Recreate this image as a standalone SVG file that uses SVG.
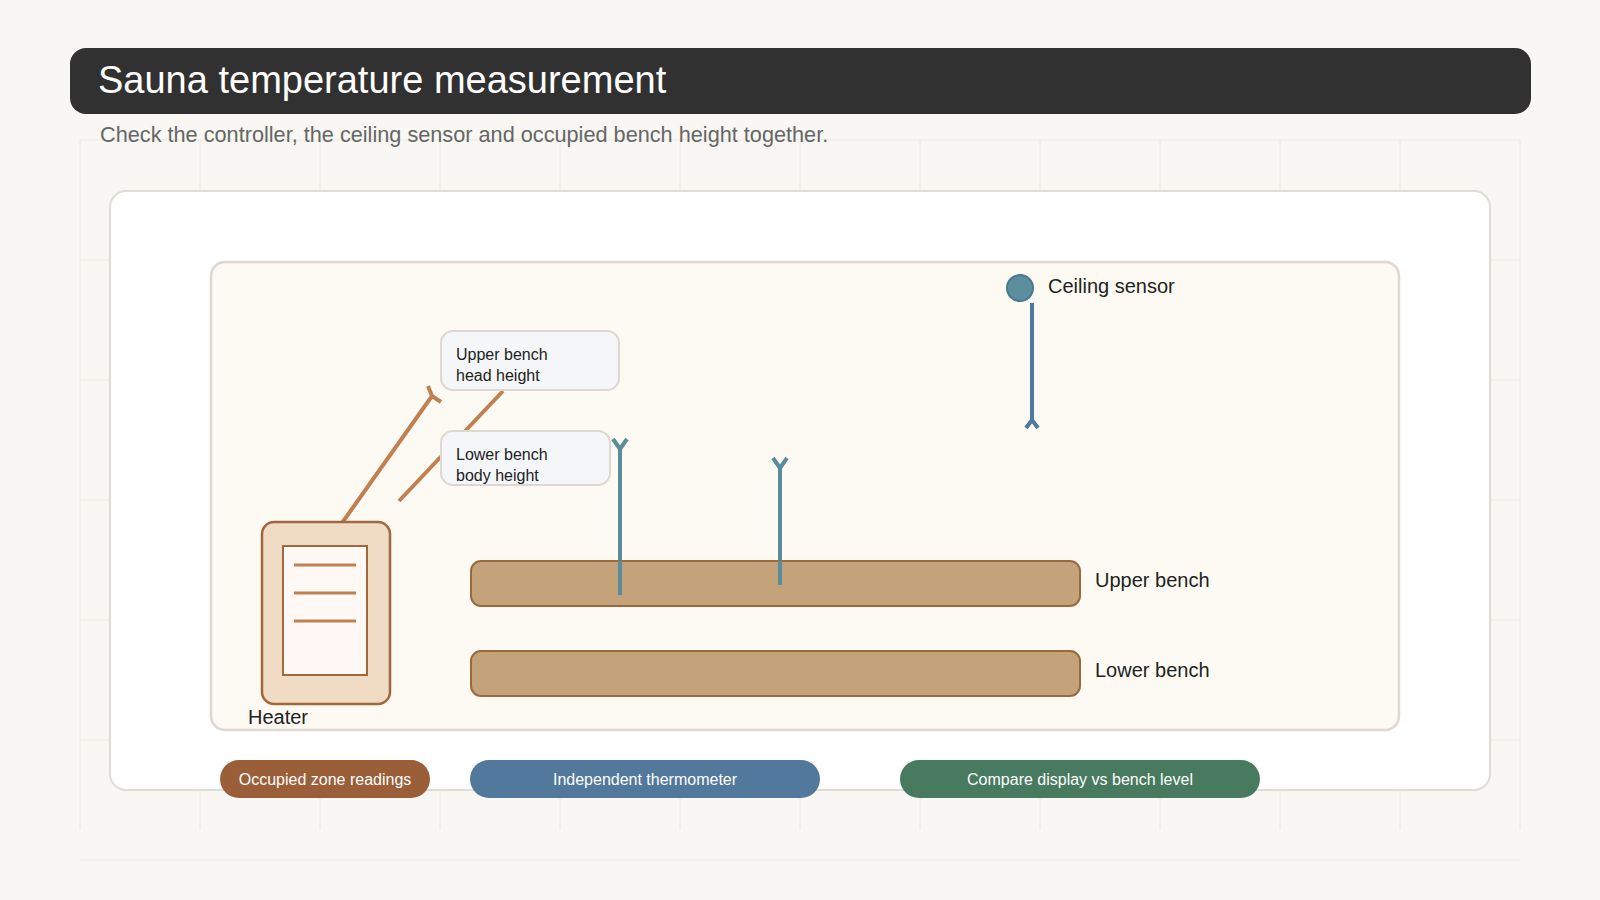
<svg xmlns="http://www.w3.org/2000/svg" width="1600" height="900" viewBox="0 0 1600 900">
<style>
text{font-family:"Liberation Sans",Arial,sans-serif}
.grid line{stroke:#ebe8e2;stroke-width:1}
.bench{fill:#c4a27a;stroke:#9a6a3e;stroke-width:2}
.lbl{font-size:20px;fill:#222}
.call{fill:#f4f6f8;stroke:#ddd8d0;stroke-width:2}
.ct{font-size:16px;fill:#222}
.or{stroke:#c08050;stroke-width:4;fill:none}
.bl{stroke:#5a8d9c;stroke-width:4;fill:none}
.pill{font-size:16px;fill:#fff;text-anchor:middle}
</style>
<rect width="1600" height="900" fill="#f8f7f3"/>
<g class="grid">
<line x1="80" y1="140" x2="80" y2="830"/><line x1="200" y1="140" x2="200" y2="830"/><line x1="320" y1="140" x2="320" y2="830"/><line x1="440" y1="140" x2="440" y2="830"/><line x1="560" y1="140" x2="560" y2="830"/><line x1="680" y1="140" x2="680" y2="830"/><line x1="800" y1="140" x2="800" y2="830"/><line x1="920" y1="140" x2="920" y2="830"/><line x1="1040" y1="140" x2="1040" y2="830"/><line x1="1160" y1="140" x2="1160" y2="830"/><line x1="1280" y1="140" x2="1280" y2="830"/><line x1="1400" y1="140" x2="1400" y2="830"/><line x1="1520" y1="140" x2="1520" y2="830"/>
<line x1="80" y1="140" x2="1520" y2="140"/><line x1="80" y1="260" x2="1520" y2="260"/><line x1="80" y1="380" x2="1520" y2="380"/><line x1="80" y1="500" x2="1520" y2="500"/><line x1="80" y1="620" x2="1520" y2="620"/><line x1="80" y1="740" x2="1520" y2="740"/><line x1="80" y1="860" x2="1520" y2="860"/>
</g>
<g id="title">
<rect x="70" y="48" width="1461" height="66" rx="16" fill="#323131"/>
<text x="98" y="93" font-size="38" fill="#fff">Sauna temperature measurement</text>
<text x="100" y="142" font-size="21.7" fill="#666">Check the controller, the ceiling sensor and occupied bench height together.</text>
</g>
<rect x="110" y="191" width="1380" height="599" rx="16" fill="#fff" stroke="#e0ddd6" stroke-width="2"/>
<rect id="room" x="211" y="262" width="1188" height="468" rx="14" fill="#fdfaf3" stroke="#ddd8d0" stroke-width="2.5"/>
<g id="connectors">
<path class="or" d="M342 523 L432 396 M432 396 L428 386 M432 396 L441 402"/>
<path class="or" d="M503 391 L399 501"/>
<path d="M1032 303 L1032 420 M1032 420 L1026 428 M1032 420 L1038 428" stroke="#4f7aa0" stroke-width="4" fill="none"/>
<path class="bl" d="M620 595 L620 449 M620 449 L613 439 M620 449 L627 439"/>
<path class="bl" d="M780 585 L780 468 M780 468 L773 458 M780 468 L787 458"/>
</g>
<g id="heater">
<rect x="262" y="522" width="128" height="182" rx="12" fill="#f0dcc4" stroke="#a0683c" stroke-width="2.5"/>
<rect x="283" y="546" width="84" height="129" fill="#fff8f4" stroke="#a0683c" stroke-width="2"/>
<path d="M294 565H356M294 593H356M294 621H356" stroke="#c08050" stroke-width="3"/>
<text x="248" y="724" class="lbl">Heater</text>
</g>
<g id="callout-upper">
<rect class="call" x="441" y="331" width="178" height="59" rx="12"/>
<text class="ct" x="456" y="360">Upper bench</text><text class="ct" x="456" y="381">head height</text>
</g>
<g id="callout-lower">
<rect class="call" x="441" y="431" width="169" height="54" rx="12"/>
<text class="ct" x="456" y="460">Lower bench</text><text class="ct" x="456" y="481">body height</text>
</g>
<g id="upper-bench"><rect class="bench" x="471" y="561" width="609" height="45" rx="10"/><text class="lbl" x="1095" y="587">Upper bench</text></g>
<g id="lower-bench"><rect class="bench" x="471" y="651" width="609" height="45" rx="10"/><text class="lbl" x="1095" y="677">Lower bench</text></g>
<path class="bl" d="M620 595 L620 561 M780 585 L780 561"/>
<g id="ceiling-sensor"><circle cx="1020" cy="288" r="13" fill="#5b8fa0" stroke="#4a7a90" stroke-width="2"/><text class="lbl" x="1048" y="293">Ceiling sensor</text></g>
<g id="legend">
<rect x="220" y="760" width="210" height="38" rx="19" fill="#9a5e38"/><text class="pill" x="325" y="785">Occupied zone readings</text>
<rect x="470" y="760" width="350" height="38" rx="19" fill="#52789c"/><text class="pill" x="645" y="785">Independent thermometer</text>
<rect x="900" y="760" width="360" height="38" rx="19" fill="#477a5f"/><text class="pill" x="1080" y="785">Compare display vs bench level</text>
</g>
</svg>
